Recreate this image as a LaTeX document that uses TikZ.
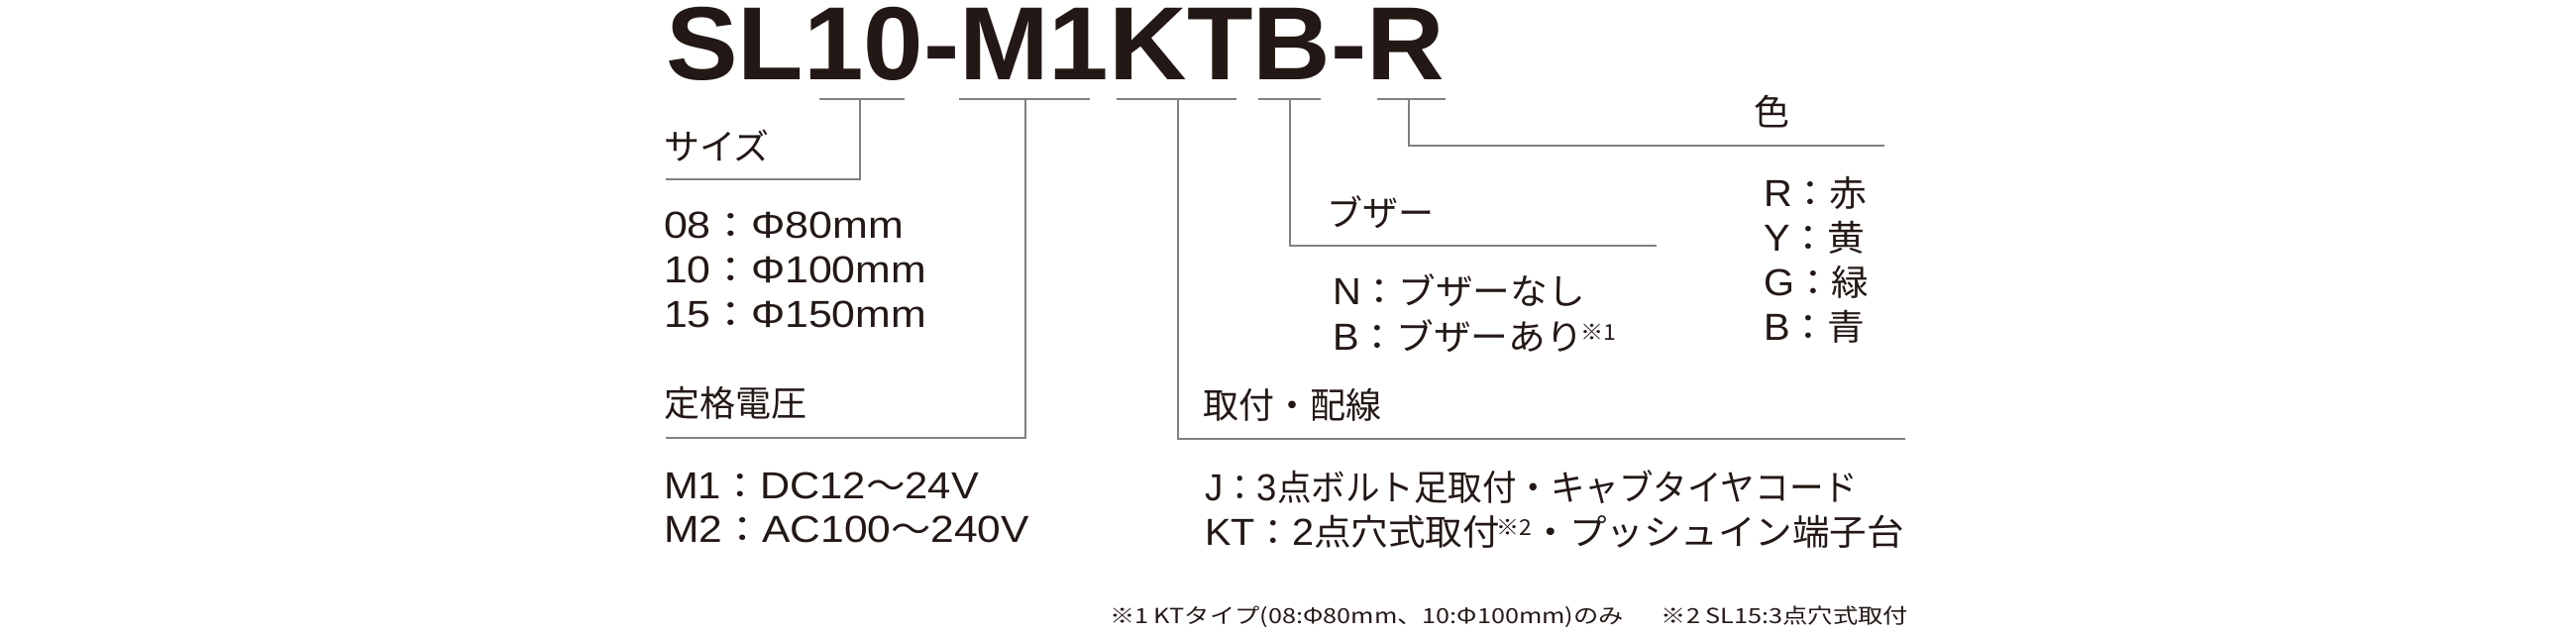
\documentclass[tikz,border=0pt]{standalone}
\usepackage{fontspec}
\newfontfamily\jp{Noto Sans CJK JP}
\newfontfamily\ttl{Liberation Sans}
\newfontfamily\latf{Liberation Sans}
\definecolor{ink}{RGB}{35,24,21}
\definecolor{rulegray}{RGB}{128,128,128}
\newcommand\supmark[1]{\kern-3pt\raisebox{10pt}{\fontsize{22}{22}\selectfont #1}}
\newcommand\la[1]{{\latf\fontsize{38}{38}\selectfont #1}}
\newcommand\fitw[2]{\resizebox{#1}{\height}{\jp\fontsize{36}{36}\selectfont #2}}
\begin{document}
\begin{tikzpicture}[x=1pt,y=-1pt,
  lbl/.style={anchor=base west, inner sep=0pt, outer sep=0pt, text=ink, font=\jp\fontsize{36}{36}\selectfont},
  conn/.style={draw=rulegray, line width=2.2pt},
  bar/.style={draw=rulegray, line width=2.6pt}]
\useasboundingbox (0,0) rectangle (2600,640);
\fill[white] (0,0) rectangle (2600,640);

% title
\node[anchor=base west, inner sep=0pt, outer sep=0pt, text=ink] (title) at (672,80)
  {\resizebox{786pt}{\height}{\ttl\bfseries\fontsize{105}{105}\selectfont SL10-M1KTB-R}};

% underline segments
\coordinate (u1a) at (827,100); \coordinate (u1b) at (913,100); \coordinate (u1m) at (868,100);
\coordinate (u2a) at (968,100); \coordinate (u2b) at (1100,100); \coordinate (u2m) at (1035,100);
\coordinate (u3a) at (1127,100); \coordinate (u3b) at (1248,100); \coordinate (u3m) at (1189,100);
\coordinate (u4a) at (1270,100); \coordinate (u4b) at (1333,100); \coordinate (u4m) at (1302,100);
\coordinate (u5a) at (1390,100); \coordinate (u5b) at (1459,100); \coordinate (u5m) at (1422,100);
\coordinate (e1) at (672,181);
\coordinate (e2) at (672,442);
\coordinate (e3) at (1923,443);
\coordinate (e4) at (1672,248);
\coordinate (e5) at (1902,147);

\draw[bar] (u1a) -- (u1b);
\draw[bar] (u2a) -- (u2b);
\draw[bar] (u3a) -- (u3b);
\draw[bar] (u4a) -- (u4b);
\draw[bar] (u5a) -- (u5b);
\draw[conn] (u1m) |- (e1);
\draw[conn] (u2m) |- (e2);
\draw[conn] (u3m) |- (e3);
\draw[conn] (u4m) |- (e4);
\draw[conn] (u5m) |- (e5);

% size
\node[lbl] (size) at (670,161) {サイズ};
\node[lbl] (s08) at (670,240) {\fitw{242pt}{\la{08}：\la{Φ80mm}}};
\node[lbl] (s10) at (670,285) {\fitw{265pt}{\la{10}：\la{Φ100mm}}};
\node[lbl] (s15) at (670,330) {\fitw{265pt}{\la{15}：\la{Φ150mm}}};
% voltage
\node[lbl] (volt) at (670,420) {定格電圧};
\node[lbl] (m1) at (670,503) {\fitw{318pt}{\la{M1}：\la{DC12}～\la{24V}}};
\node[lbl] (m2) at (670,547) {\fitw{369pt}{\la{M2}：\la{AC100}～\la{240V}}};
% buzzer
\node[lbl] (buz) at (1339,228) {ブザー};
\node[lbl] (bn) at (1345,307) {\fitw{255pt}{\la{N}：ブザーなし}};
\node[lbl] (bb) at (1345,353) {\fitw{286pt}{\la{B}：ブザーあり\supmark{※1}}};
% colour
\node[lbl] (col) at (1770,126) {色};
\node[lbl] (cr) at (1780,208) {\scalebox{1.05}[1]{\la{R}：赤}};
\node[lbl] (cy) at (1780,253) {\scalebox{1.05}[1]{\la{Y}：黄}};
\node[lbl] (cg) at (1780,298) {\scalebox{1.05}[1]{\la{G}：緑}};
\node[lbl] (cb) at (1780,343) {\scalebox{1.05}[1]{\la{B}：青}};
% mounting
\node[lbl] (mnt) at (1214,422) {取付・配線};
\node[lbl] (mj) at (1216,505) {\fitw{659pt}{\la{J}：\la{3}点ボルト足取付・キャブタイヤコード}};
\node[lbl] (mkt) at (1216,550) {\fitw{706pt}{\la{KT}：\la{2}点穴式取付\supmark{※2}・プッシュイン端子台}};

% footnote
\node[anchor=base west, inner sep=0pt, outer sep=0pt, text=ink] (fn) at (1120,629)
  {\resizebox{806pt}{\height}{\jp\fontsize{21}{21}\selectfont ※1 KTタイプ(08:Φ80mm、10:Φ100mm)のみ\hspace{1.5em}※2 SL15:3点穴式取付}};
\end{tikzpicture}
\end{document}
